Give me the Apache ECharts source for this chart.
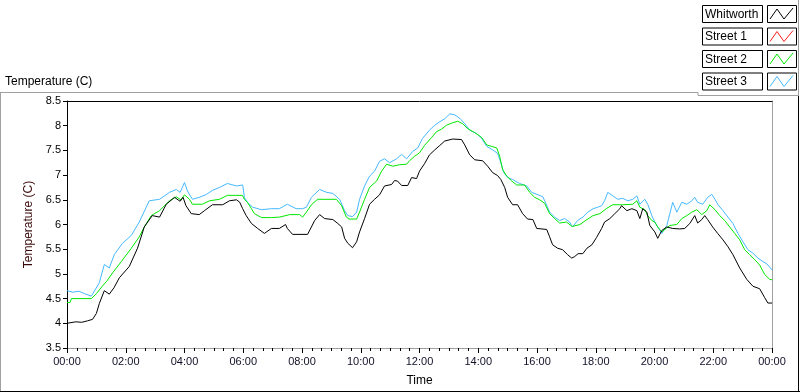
<!DOCTYPE html>
<html>
<head>
<meta charset="utf-8">
<script src="https://cdn.jsdelivr.net/npm/echarts@6/dist/echarts.min.js"></script>
<style>
  html, body { margin: 0; padding: 0; background: #fff; }
  #chart { width: 800px; height: 392px; }
</style>
</head>
<body>
<div id="chart"></div>
<script>
// readings, hours since midnight
var whitworthHours = [0,0.3,0.5,0.7,0.87,1.0,1.1,1.27,1.44,1.6,1.78,2.12,2.4,2.63,2.9,3.15,3.38,3.66,3.85,3.95,4.05,4.23,4.5,4.68,4.95,5.3,5.53,5.77,5.88,5.98,6.1,6.28,6.49,6.72,6.96,7.23,7.44,7.5,7.68,8.19,8.32,8.43,8.6,8.77,9.05,9.22,9.35,9.45,9.56,9.72,9.86,9.96,10.13,10.3,10.47,10.64,10.81,11.05,11.15,11.25,11.39,11.6,11.73,11.9,12.0,12.17,12.34,12.52,12.69,12.86,13.13,13.43,13.54,13.71,13.88,14.15,14.32,14.49,14.66,14.77,14.9,15.0,15.17,15.34,15.51,15.68,15.86,15.99,16.33,16.43,16.53,16.7,16.87,17.04,17.18,17.28,17.4,17.56,17.7,17.87,18.03,18.2,18.3,18.48,18.65,18.82,18.88,19.06,19.23,19.4,19.5,19.6,19.74,19.84,20.01,20.11,20.25,20.42,20.62,20.86,21.03,21.2,21.37,21.47,21.61,21.71,21.81,21.98,22.15,22.33,22.5,22.67,22.9,23.14,23.35,23.58,23.75,23.86,24.0];
var whitworthTemp = [4.0,4.03,4.02,4.05,4.08,4.2,4.4,4.66,4.59,4.72,4.92,5.15,5.52,5.95,6.18,6.15,6.41,6.55,6.47,6.55,6.38,6.22,6.2,6.28,6.4,6.4,6.48,6.5,6.45,6.32,6.18,6.02,5.92,5.82,5.92,5.92,6.0,5.92,5.8,5.8,5.95,6.08,6.2,6.12,6.1,6.02,5.95,5.72,5.62,5.53,5.65,5.85,6.12,6.41,6.51,6.6,6.78,6.81,6.89,6.88,6.79,6.79,6.95,6.93,7.08,7.23,7.41,7.51,7.6,7.69,7.73,7.72,7.61,7.41,7.31,7.29,7.18,7.05,6.99,6.91,6.75,6.55,6.4,6.4,6.22,6.11,6.1,5.92,5.9,5.75,5.59,5.52,5.49,5.39,5.32,5.35,5.41,5.41,5.52,5.59,5.74,5.92,6.05,6.12,6.22,6.32,6.38,6.28,6.32,6.28,6.12,6.32,6.25,5.98,5.85,5.72,5.88,5.95,5.92,5.91,5.92,6.02,6.18,6.03,6.1,6.18,6.1,5.95,5.82,5.69,5.55,5.39,5.12,4.89,4.75,4.7,4.52,4.41,4.41];

var street1Hours = [];
var street1Temp = [];

var street2Hours = [0,0.1,0.15,0.83,1.0,1.2,1.35,1.55,1.85,2.19,2.46,2.63,2.87,3.15,3.49,3.72,3.88,4.0,4.17,4.27,4.61,4.85,5.19,5.46,5.97,6.04,6.14,6.28,6.38,6.62,6.96,7.24,7.58,7.92,8.02,8.15,8.32,8.53,9.17,9.35,9.51,9.6,9.86,9.96,10.13,10.3,10.54,10.71,10.88,11.09,11.32,11.56,11.66,11.83,12.0,12.17,12.41,12.58,12.75,12.92,13.13,13.3,13.47,13.64,13.88,14.12,14.29,14.46,14.63,14.73,14.83,14.97,15.14,15.31,15.58,15.75,15.92,16.09,16.26,16.43,16.6,16.77,17.0,17.2,17.46,17.7,17.91,18.14,18.38,18.58,18.92,19.26,19.4,19.5,19.67,19.77,19.91,20.01,20.11,20.25,20.52,20.76,20.93,21.1,21.27,21.44,21.61,21.78,21.88,22.06,22.22,22.39,22.56,22.73,22.9,23.07,23.24,23.41,23.58,23.75,23.92,24.0];
var street2Temp = [4.42,4.42,4.5,4.5,4.6,4.75,4.85,5.02,5.25,5.52,5.75,5.95,6.18,6.28,6.48,6.56,6.5,6.6,6.51,6.41,6.41,6.48,6.51,6.59,6.59,6.51,6.45,6.32,6.22,6.14,6.14,6.15,6.2,6.2,6.15,6.25,6.4,6.51,6.51,6.38,6.15,6.11,6.11,6.25,6.51,6.75,6.88,7.08,7.22,7.18,7.21,7.22,7.29,7.38,7.45,7.6,7.76,7.88,7.93,8.01,8.06,8.09,8.04,7.94,7.86,7.76,7.61,7.58,7.55,7.38,7.11,6.98,6.88,6.8,6.8,6.65,6.55,6.5,6.43,6.22,6.12,6.03,6.05,5.96,6.0,6.1,6.18,6.22,6.33,6.4,6.4,6.41,6.48,6.35,6.3,6.18,6.08,6.05,5.95,5.85,5.98,6.0,6.12,6.18,6.25,6.3,6.2,6.28,6.4,6.3,6.18,6.08,5.95,5.82,5.69,5.49,5.39,5.29,5.18,4.99,4.89,4.88];

var street3Hours = [0,0.2,0.4,0.6,0.83,1.1,1.27,1.44,1.61,1.89,2.19,2.46,2.8,3.15,3.49,3.72,3.85,4.0,4.1,4.27,4.5,4.75,4.95,5.19,5.46,5.77,5.98,6.04,6.14,6.32,6.62,6.96,7.23,7.5,7.8,8.02,8.15,8.32,8.6,8.84,9.05,9.28,9.45,9.56,9.72,9.86,9.96,10.13,10.3,10.47,10.64,10.81,10.98,11.22,11.39,11.56,11.77,11.94,12.1,12.34,12.52,12.69,12.86,13.03,13.2,13.37,13.54,13.71,13.95,14.12,14.29,14.49,14.66,14.77,14.87,15.0,15.17,15.41,15.65,15.82,16.0,16.2,16.26,16.43,16.6,16.77,16.94,17.11,17.21,17.38,17.56,17.73,17.91,18.07,18.2,18.3,18.41,18.58,18.75,18.92,19.09,19.26,19.4,19.5,19.67,19.77,19.91,20.01,20.11,20.25,20.42,20.62,20.76,20.93,21.1,21.27,21.37,21.47,21.64,21.81,21.95,22.06,22.15,22.33,22.5,22.67,22.84,23.01,23.18,23.35,23.52,23.69,23.83,24.0];
var street3Temp = [4.66,4.63,4.65,4.6,4.55,4.82,5.19,5.12,5.39,5.62,5.78,6.05,6.48,6.51,6.65,6.71,6.65,6.85,6.68,6.51,6.55,6.61,6.69,6.75,6.83,6.78,6.8,6.55,6.45,6.35,6.3,6.32,6.32,6.41,6.32,6.32,6.35,6.55,6.71,6.65,6.63,6.51,6.28,6.18,6.16,6.25,6.51,6.78,6.98,7.08,7.28,7.33,7.25,7.33,7.42,7.33,7.48,7.55,7.74,7.91,8.01,8.08,8.14,8.24,8.22,8.15,8.04,7.91,7.84,7.74,7.58,7.51,7.44,7.25,7.05,6.95,6.91,6.83,6.78,6.65,6.61,6.56,6.48,6.25,6.15,6.08,6.12,6.05,5.95,6.08,6.15,6.25,6.32,6.35,6.38,6.48,6.65,6.58,6.51,6.53,6.48,6.51,6.58,6.41,6.51,6.41,6.18,6.05,5.95,5.82,5.98,6.45,6.25,6.45,6.41,6.48,6.55,6.45,6.41,6.55,6.61,6.51,6.41,6.28,6.15,6.02,5.82,5.65,5.49,5.42,5.32,5.25,5.2,5.08];

var seriesNames = ['Whitworth', 'Street 1', 'Street 2', 'Street 3'];
var seriesColors = ['#000000', '#ff2020', '#00e800', '#45b9ff'];

var FONT = 'Liberation Sans';

function pairs(hours, temps) {
    return hours.map(function (h, i) { return [h, temps[i]]; });
}
var seriesData = [
    pairs(whitworthHours, whitworthTemp),
    pairs(street1Hours, street1Temp),
    pairs(street2Hours, street2Temp),
    pairs(street3Hours, street3Temp)
];

function hourLabel(v) {
    var h = Math.round(v) % 24;
    return (h < 10 ? '0' : '') + h + ':00';
}

// legend boxes, drawn by hand like the LabVIEW plot legend
var legendGraphics = [];
seriesNames.forEach(function (name, i) {
    var y = 5 + i * 22.5;
    legendGraphics.push({
        type: 'rect', shape: { x: 702.5, y: y + 0.5, width: 60, height: 17 },
        style: { fill: '#fff', stroke: '#000', lineWidth: 1 }
    });
    legendGraphics.push({
        type: 'text', x: 705, y: y + 9.5,
        style: { text: name, fill: '#000', font: '12px "' + FONT + '"', verticalAlign: 'middle' }
    });
    legendGraphics.push({
        type: 'rect', shape: { x: 767.5, y: y + 0.5, width: 29, height: 17 },
        style: { fill: '#fff', stroke: '#000', lineWidth: 1 }
    });
    legendGraphics.push({
        type: 'polyline',
        shape: { points: [[770, y + 14], [777, y + 4], [784, y + 14], [793, y + 3]] },
        style: { stroke: seriesColors[i], lineWidth: 1, fill: null }
    });
});

var chart = echarts.init(document.getElementById('chart'));
chart.setOption({
    animation: false,
    backgroundColor: '#fff',
    textStyle: { fontFamily: FONT },
    grid: { left: 67, right: 28, top: 101, bottom: 39, containLabel: false },
    xAxis: [{
        type: 'value',
        min: 0, max: 24, interval: 2,
        name: 'Time',
        nameLocation: 'middle',
        nameGap: 27,
        nameTextStyle: { color: '#000', fontSize: 12, fontFamily: FONT },
        axisLine: { show: true, onZero: false, lineStyle: { color: '#a0a0a0', width: 1 } },
        axisTick: { show: true, length: 5, lineStyle: { color: '#000' } },
        minorTick: { show: true, splitNumber: 6, length: 3, lineStyle: { color: '#000' } },
        axisLabel: { color: '#101028', fontSize: 11, margin: 8, formatter: hourLabel, fontFamily: FONT },
        splitLine: { show: false }
    }, {
        type: 'value', position: 'top',
        min: 0, max: 24,
        axisLine: { show: true, onZero: false, lineStyle: { color: '#000', width: 1 } },
        axisTick: { show: false }, axisLabel: { show: false }, splitLine: { show: false }
    }],
    yAxis: [{
        type: 'value',
        min: 3.5, max: 8.5, interval: 0.5,
        name: 'Temperature (C)',
        nameLocation: 'middle',
        nameGap: 28,
        nameTextStyle: { color: '#3a0a0a', fontSize: 12, fontFamily: FONT },
        axisLine: { show: true, onZero: false, lineStyle: { color: '#000', width: 1 } },
        axisTick: { show: true, length: 4, lineStyle: { color: '#000' } },
        axisLabel: { color: '#000', fontSize: 11, margin: 6, fontFamily: FONT },
        splitLine: { show: false }
    }, {
        type: 'value', position: 'right',
        min: 3.5, max: 8.5,
        axisLine: { show: true, onZero: false, lineStyle: { color: '#a0a0a0', width: 1 } },
        axisTick: { show: false }, axisLabel: { show: false }, splitLine: { show: false }
    }],
    graphic: [
        // outer panel frame
        { type: 'line', shape: { x1: 0, y1: 92.5, x2: 698, y2: 92.5 }, style: { stroke: '#a0a0a0', lineWidth: 1 } },
        { type: 'line', shape: { x1: 698, y1: 92.5, x2: 698, y2: 95.5 }, style: { stroke: '#a0a0a0', lineWidth: 1 } },
        { type: 'line', shape: { x1: 698, y1: 95.5, x2: 799, y2: 95.5 }, style: { stroke: '#a0a0a0', lineWidth: 1 } },
        { type: 'line', shape: { x1: 0.5, y1: 92, x2: 0.5, y2: 392 }, style: { stroke: '#a0a0a0', lineWidth: 1 } },
        { type: 'line', shape: { x1: 0, y1: 391.5, x2: 800, y2: 391.5 }, style: { stroke: '#000', lineWidth: 1 } },
        { type: 'line', shape: { x1: 798.5, y1: 96, x2: 798.5, y2: 392 }, style: { stroke: '#000', lineWidth: 1 } },
        { type: 'line', shape: { x1: 798.5, y1: 0, x2: 798.5, y2: 95 }, style: { stroke: '#a0a0a0', lineWidth: 1 } },
        {
            type: 'text', x: 5, y: 82,
            style: { text: 'Temperature (C)', fill: '#000', font: '12px "' + FONT + '"', verticalAlign: 'middle' }
        }
    ].concat(legendGraphics),
    series: seriesNames.map(function (name, i) {
        return {
            name: name,
            type: 'line',
            data: seriesData[i],
            showSymbol: false,
            symbol: 'none',
            lineStyle: { color: seriesColors[i], width: 1 },
            itemStyle: { color: seriesColors[i] },
            z: 10 - i
        };
    })
});
</script>
</body>
</html>
